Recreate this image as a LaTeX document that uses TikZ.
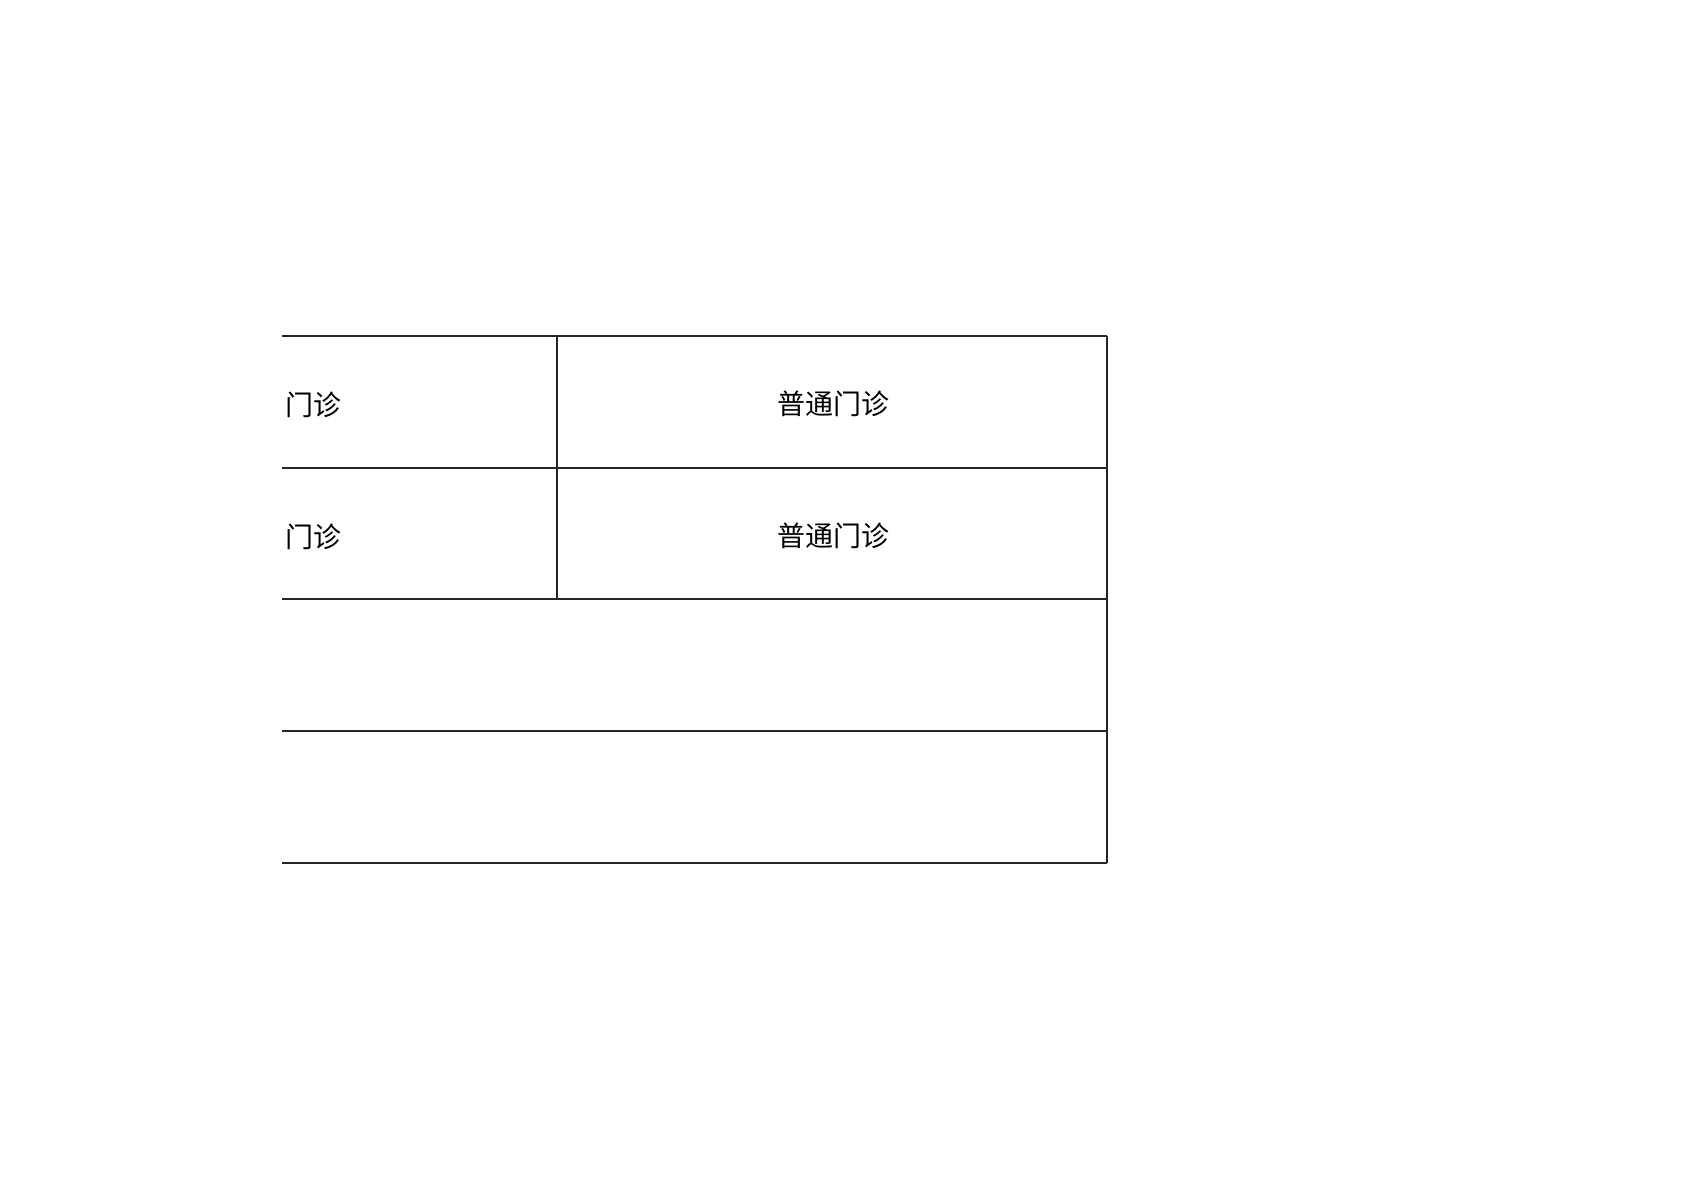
\documentclass[tikz,border=0pt]{standalone}
\usepackage{fontspec}
\newfontfamily\cjk{Noto Sans CJK SC}
\begin{document}
\begin{tikzpicture}[x=0.5pt,y=-0.5pt,
  rule/.style={line width=1pt,black!85},
  cell/.style={font=\cjk\fontsize{14}{16}\selectfont,inner sep=0pt}]
\useasboundingbox (0,0) rectangle (1684,1191);
% horizontal rules
\coordinate (l0) at (282,336); \coordinate (r0) at (1107,336);
\coordinate (l1) at (282,468); \coordinate (r1) at (1107,468);
\coordinate (l2) at (282,599); \coordinate (r2) at (1107,599);
\coordinate (l3) at (282,731); \coordinate (r3) at (1107,731);
\coordinate (l4) at (282,863); \coordinate (r4) at (1107,863);
\coordinate (m0) at (557,336); \coordinate (m2) at (557,599);
\draw[rule] (l0) -- (r0);
\draw[rule] (l1) -- (r1);
\draw[rule] (l2) -- (r2);
\draw[rule] (l3) -- (r3);
\draw[rule] (l4) -- (r4);
\draw[rule] (m0) -- (m2);
\draw[rule,line width=1.2pt] (r0) -- (r4);
% texts
\node[cell,anchor=west] (a1) at (285,405) {门诊};
\node[cell,anchor=west] (a2) at (285,537) {门诊};
\node[cell] (b1) at (833,404) {普通门诊};
\node[cell] (b2) at (833,536) {普通门诊};
\end{tikzpicture}
\end{document}
